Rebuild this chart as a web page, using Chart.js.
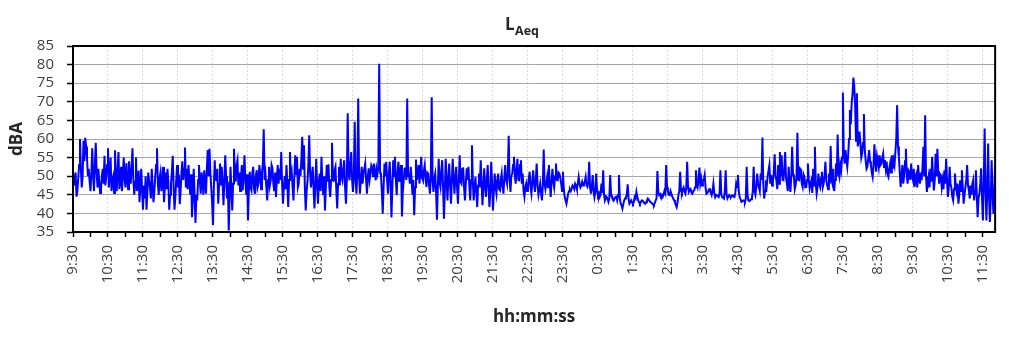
<!DOCTYPE html>
<html>
<head>
<meta charset="utf-8">
<title>LAeq</title>
<script src="https://cdn.jsdelivr.net/npm/chart.js@4.4.1/dist/chart.umd.min.js"></script>
<style>
  html, body { margin: 0; padding: 0; background: #fff; }
  #wrap { width: 1009px; height: 338px; }
</style>
</head>
<body>
<div id="wrap"><canvas id="laeqChart" width="1009" height="338"></canvas></div>
<script>
// logger interval in minutes, first sample at 9:30
const sampleMinutes = 1.5;

const hourLabels = ['9:30', '10:30', '11:30', '12:30', '13:30', '14:30', '15:30', '16:30',
  '17:30', '18:30', '19:30', '20:30', '21:30', '22:30', '23:30', '0:30', '1:30', '2:30',
  '3:30', '4:30', '5:30', '6:30', '7:30', '8:30', '9:30', '10:30', '11:30'];

// dBA, one value per sample, split in four-hour blocks
const levels0930 = [
  50.5, 47.5, 49, 51, 44.5, 46, 49.5, 53, 60, 52, 47, 50, 59.5, 54, 60.3, 58, 55, 50, 52, 48.5,
  46, 51, 57.5, 50, 46, 53, 59, 51, 47, 52, 48.5, 45.5, 46.5, 50, 52, 48, 55.5, 47.5, 50, 53,
  57.5, 47, 51, 55, 46, 49, 50, 45.5, 57, 50, 46, 52, 56.5, 46.5, 49, 52.5, 46, 50.5, 55, 49,
  47, 53.5, 50, 46.5, 54, 50, 48, 53, 57.5, 49, 45, 48.5, 55, 46, 48, 51.5, 43, 47, 52, 46,
  41, 47.5, 44, 50, 41, 45.5, 51, 48.5, 47, 44, 52, 47.5, 43, 46, 50, 53, 57.5, 48, 45, 49.5,
  51, 46, 48, 52.5, 43, 47, 51, 46.5, 52, 48, 41, 45, 48, 51, 55.5, 47, 41, 44.5, 49, 53,
  47, 50.5, 42.5, 46, 51, 54, 49, 52, 57.7, 47, 52, 46.5, 53, 49, 45, 50.5, 39, 44, 52, 45,
  37.4, 45, 43.5, 49, 53, 48.5, 45.3, 51, 49, 45, 51.6, 48, 45.3, 52, 57, 50, 57.4, 51, 47, 43
];
const levels1330 = [
  36.8, 47, 54.3, 49, 48.9, 52, 42.6, 48, 53.4, 47.5, 52.5, 48, 42.2, 49, 55.6, 50, 44, 48.5, 35.4, 44,
  52.5, 47, 40.8, 48, 57.4, 51, 48.5, 53, 54.3, 47.5, 51, 46, 49.8, 53, 46.2, 50, 55.6, 49, 45, 50.5,
  38.1, 46, 51.2, 47, 46.2, 51, 52.5, 46.5, 45.3, 50, 51.6, 47, 48, 53, 50.7, 46.5, 50.7, 53.5, 62.6, 49,
  50.7, 47, 43.5, 49, 52.5, 47.5, 48.9, 53, 52.1, 48, 46, 51, 44.4, 49.5, 53, 48, 52, 49, 56.5, 48,
  42.6, 47, 50, 46.5, 53, 48, 41.7, 49, 56.5, 49.5, 51, 47, 43.5, 50, 55.6, 50.5, 55.2, 47, 48, 52,
  50, 54.5, 60.6, 52, 58.3, 47, 40.8, 46, 48.5, 53, 61, 51, 47, 50, 52.5, 46.5, 41.3, 48, 54.7, 47.5,
  42.6, 48.5, 50.7, 46, 55.2, 48.5, 44.9, 50, 40.8, 47, 53, 48.5, 53.2, 47, 44.4, 49, 59, 50.5, 48.5, 51.5,
  52.5, 46, 41.3, 48, 52.5, 47.5, 54.7, 50, 48.9, 52, 54.3, 47, 42.6, 49, 66.9, 51, 48.9, 53, 56.5, 49
];
const levels1730 = [
  45.8, 50, 64.6, 49, 45.3, 51, 70.9, 50, 45.3, 49.5, 52.5, 48, 50.7, 52, 53.4, 49, 45.3, 50, 52.1, 49,
  50.7, 53, 52.5, 50, 53.4, 51, 48.9, 52, 50.7, 52.5, 80.2, 51, 50.3, 46, 39.9, 47, 53.4, 50, 53.9, 49,
  45.3, 50.5, 53.9, 48, 38.9, 47, 54.3, 50, 55.2, 49, 44.9, 51, 53.9, 48.5, 50.7, 53, 39.2, 46, 48.9, 52,
  52.1, 49, 70.9, 50, 50.7, 48, 52.5, 49.5, 45, 49, 39.5, 47, 54.5, 49, 50.7, 53, 48, 51, 55.2, 49.5,
  48.9, 51.5, 53, 49, 47.1, 51, 50.7, 47.5, 45.3, 50, 71.2, 49, 45.8, 49.5, 50.7, 46, 38.3, 47, 54.7, 48.5,
  47.1, 51.5, 54.3, 47, 38.6, 46, 54.7, 49.5, 43.5, 49, 53.4, 48, 42.6, 48.5, 54.7, 50, 45.3, 49.5, 52.5, 47,
  42.6, 49, 55.6, 48.5, 48, 52, 52.1, 47, 43.5, 48, 52.1, 49, 52.5, 47.5, 43.5, 49, 58.3, 48.5, 43.5, 47,
  49.8, 46, 41.7, 47.5, 50.7, 47, 54.3, 48.5, 42.2, 46.5, 52.1, 47.5, 44.4, 49, 53, 47, 41.7, 46, 53.9, 48
];
const levels2130 = [
  40.8, 46, 50.7, 47, 45.3, 49, 50.7, 46.5, 46.2, 49, 50.7, 47, 45.3, 49.5, 53, 49, 48, 51, 60.9, 49,
  45.8, 50, 50.7, 53, 55.2, 50, 48, 52, 54.7, 49, 48.9, 53, 54.3, 48, 50.7, 46, 44.4, 47, 48, 46,
  47.1, 49.5, 51.2, 47, 45.3, 48.5, 51.6, 48, 45.8, 49, 53.4, 47.5, 45, 46.5, 48, 45.5, 43.5, 47.5, 57.2, 48,
  46.5, 48, 49.8, 47, 53, 48, 44.4, 48.5, 52, 48.5, 47, 50, 53.4, 49, 48.9, 51, 50.7, 49.5, 48, 46,
  51.2, 46.5, 44.4, 43.5, 42.6, 44, 45.3, 46, 46.5, 46, 46.7, 47.5, 47.1, 46.5, 48, 47.5, 46.5, 48, 49.8, 48,
  47, 47.5, 48.5, 47.5, 48, 48.5, 49.8, 47.5, 47.1, 48.5, 53.9, 47, 45.3, 47, 50.3, 46, 44.4, 46, 50.7, 46,
  44.9, 45.5, 44.4, 45, 48, 45.5, 51.6, 45, 43.5, 44, 44.4, 44, 43.1, 44, 50.3, 45, 44.4, 44, 43.5, 44,
  44.4, 44.5, 43.5, 45, 50.3, 44, 42.6, 42.2, 41.3, 42.5, 43.5, 44, 44.4, 45, 47.8, 44, 42.6, 43, 43.5, 43
];
const levels0130 = [
  42.6, 43, 44.4, 44, 45.8, 44.5, 43.5, 43, 42.6, 43, 43.5, 43.5, 43.1, 42.8, 42.6, 43, 43.5, 44, 43.7, 43.3,
  43.1, 42.9, 42.6, 42.4, 42.2, 42.8, 43.5, 44, 51.4, 45.5, 44.9, 45.2, 44.6, 45, 44.4, 45, 46, 45.4, 53, 47,
  45.8, 45, 44.9, 46, 45.3, 44.5, 44, 43.6, 43, 42.3, 41.7, 43, 45, 46, 51.2, 46, 45.5, 46.5, 47, 45.8,
  45.3, 47, 53.9, 47, 45.8, 46.2, 46.5, 45.5, 45.3, 46, 46.2, 47, 51.6, 48, 47.1, 49, 52.3, 48, 49.4, 47.5,
  48.9, 49, 50.3, 47, 45.3, 45.5, 45.8, 46.5, 46.7, 45.5, 44.9, 46, 48, 45.5, 44.4, 45, 44.9, 44.6, 44.4, 45.5,
  51.6, 45, 44.4, 44.2, 44, 46, 51.6, 45, 44, 44.5, 44.9, 44.5, 44.4, 44.8, 44.9, 44.5, 44.4, 45.5, 48, 47,
  50.3, 46, 44.4, 43.8, 43.1, 43.3, 43.5, 43.4, 43.1, 44, 52.5, 45, 43.5, 43.3, 43.5, 43.8, 44, 46, 52.5, 46,
  45, 47, 50.7, 48, 48, 46, 50.7, 49, 60.4, 48, 44, 46, 48.9, 47.5, 50, 51.5, 53, 48, 50.3, 47.5
];
const levels0530 = [
  48.5, 51, 55.9, 50, 48.9, 46.5, 53, 48, 56.5, 50, 55.6, 49, 48.9, 52, 56.5, 49.5, 48, 46, 52.5, 48,
  45.8, 50, 57.9, 50.5, 49.8, 46.5, 47.6, 50, 61.7, 49, 48.9, 52, 51.6, 48, 47.1, 50.5, 49.8, 47, 47.1, 49,
  53.4, 49, 46.7, 48, 48.9, 45.5, 52, 47.5, 57.9, 48, 45.3, 47, 50.7, 48, 47.1, 49.5, 51.2, 47, 48, 50,
  53.9, 49, 47.6, 46.5, 50.7, 48, 58.1, 49, 48, 52, 46, 49, 53.4, 50, 61.2, 51, 49.8, 53, 51.6, 55,
  72.5, 56, 53.4, 57, 54.3, 52.5, 55.6, 60, 67.8, 64, 69.6, 72, 76.5, 74, 69, 59.5, 72.3, 58, 59.5, 62,
  58.8, 55, 56.1, 59, 66.7, 57, 54.3, 52, 52.5, 55, 57, 54, 53, 51, 49.8, 53, 58.6, 54, 51.2, 55.5,
  54.3, 52.5, 55.6, 53, 53.4, 55, 56.1, 52.5, 54.3, 52, 53.9, 50.5, 49.8, 52, 53.4, 51, 55.6, 52, 54.3, 53,
  56.5, 60, 69.1, 58, 55.2, 51, 47.1, 50, 53, 48, 50, 54, 57.4, 50, 48, 51.5, 51, 49, 53.4, 50
];
const levels0930b = [
  49, 52, 47.1, 50, 50.7, 47, 53, 49.5, 48, 51, 48.9, 52.5, 57.9, 50, 66.4, 50, 45.8, 48, 49.8, 47,
  52, 48.5, 55.2, 50, 46.2, 49, 56, 50, 57.4, 51, 48, 50.5, 50, 47, 48.9, 46.5, 51.6, 48, 54.7, 49,
  44.4, 47, 52.5, 48, 47, 44.5, 43.5, 46.5, 50.7, 47.5, 46, 48, 42.6, 45, 48.9, 46, 51.6, 47, 42.6, 45,
  47, 49, 53, 47.5, 46.2, 44, 47.5, 45, 48, 49, 43.5, 46, 51.6, 45, 39, 44, 45.3, 48, 52.1, 44,
  38.1, 48, 62.8, 47, 38.1, 46, 58.8, 45, 37.7, 44, 54.3, 46, 39.9, 45, 53
];

const laeq = [].concat(levels0930, levels1330, levels1730, levels2130,
  levels0130, levels0530, levels0930b);
const points = laeq.map((v, i) => ({ x: i * sampleMinutes, y: v }));
const lastMinute = (laeq.length - 1) * sampleMinutes;

const fontFamily = '"Open Sans", "DejaVu Sans", sans-serif';
const labelColor = '#404040';

// black box round the plot area
const plotFrame = {
  id: 'plotFrame',
  afterDatasetsDraw(chart) {
    const { ctx, chartArea: a } = chart;
    ctx.save();
    ctx.strokeStyle = '#000';
    ctx.lineWidth = 2;
    ctx.strokeRect(a.left, a.top, a.right - a.left, a.bottom - a.top);
    ctx.restore();
  }
};

// title "L" with subscript "Aeq"
const subTitle = {
  id: 'subTitle',
  afterDraw(chart) {
    const ctx = chart.ctx;
    ctx.save();
    ctx.fillStyle = '#262626';
    ctx.textBaseline = 'alphabetic';
    ctx.textAlign = 'left';
    ctx.font = 'bold 17px ' + fontFamily;
    ctx.fillText('L', 505, 30);
    const w = ctx.measureText('L').width;
    ctx.font = 'bold 12.5px ' + fontFamily;
    ctx.fillText('Aeq', 505 + w + 0.5, 34.5);
    ctx.restore();
  }
};

new Chart(document.getElementById('laeqChart'), {
  type: 'line',
  data: {
    datasets: [{
      label: 'LAeq',
      data: points,
      borderColor: '#0000ff',
      borderWidth: 2,
      pointRadius: 0,
      tension: 0,
      fill: false
    }]
  },
  options: {
    responsive: false,
    animation: false,
    layout: { padding: { top: 46, right: 9, left: 0, bottom: 0 } },
    plugins: {
      legend: { display: false },
      tooltip: { enabled: false }
    },
    scales: {
      x: {
        type: 'linear',
        min: 0,
        max: lastMinute,
        afterFit: s => { s.height = 106; },
        afterBuildTicks: s => {
          const ticks = [];
          for (let m = 0; m <= lastMinute; m += 30) ticks.push({ value: m });
          s.ticks = ticks;
        },
        ticks: {
          autoSkip: false,
          minRotation: 90,
          maxRotation: 90,
          padding: 8,
          color: labelColor,
          font: { family: fontFamily, size: 15 },
          callback: v => (v % 60 === 0 ? hourLabels[v / 60] : '')
        },
        grid: {
          color: c => (c.tick && c.tick.value % 60 === 0 ? '#d9d9d9' : 'rgba(0,0,0,0)'),
          lineWidth: 1,
          tickColor: '#000',
          tickLength: 5,
          tickWidth: 1.5
        },
        border: { color: '#000', width: 2, dash: [2, 2] },
        title: {
          display: true,
          text: 'hh:mm:ss',
          color: '#262626',
          font: { family: fontFamily, size: 17, weight: 'bold' },
          padding: { top: 0, bottom: 11 }
        }
      },
      y: {
        min: 35,
        max: 85,
        afterFit: s => { s.width = 73; },
        ticks: {
          stepSize: 5,
          autoSkip: false,
          padding: 13,
          color: labelColor,
          font: { family: fontFamily, size: 15 }
        },
        grid: {
          color: '#a6a6a6',
          lineWidth: 1,
          tickColor: '#000',
          tickLength: 6,
          tickWidth: 1.5
        },
        border: { color: '#000', width: 2 },
        title: {
          display: true,
          text: 'dBA',
          color: '#262626',
          font: { family: fontFamily, size: 17, weight: 'bold' },
          padding: { top: 7, bottom: 0 }
        }
      }
    }
  },
  plugins: [plotFrame, subTitle]
});
</script>
</body>
</html>
